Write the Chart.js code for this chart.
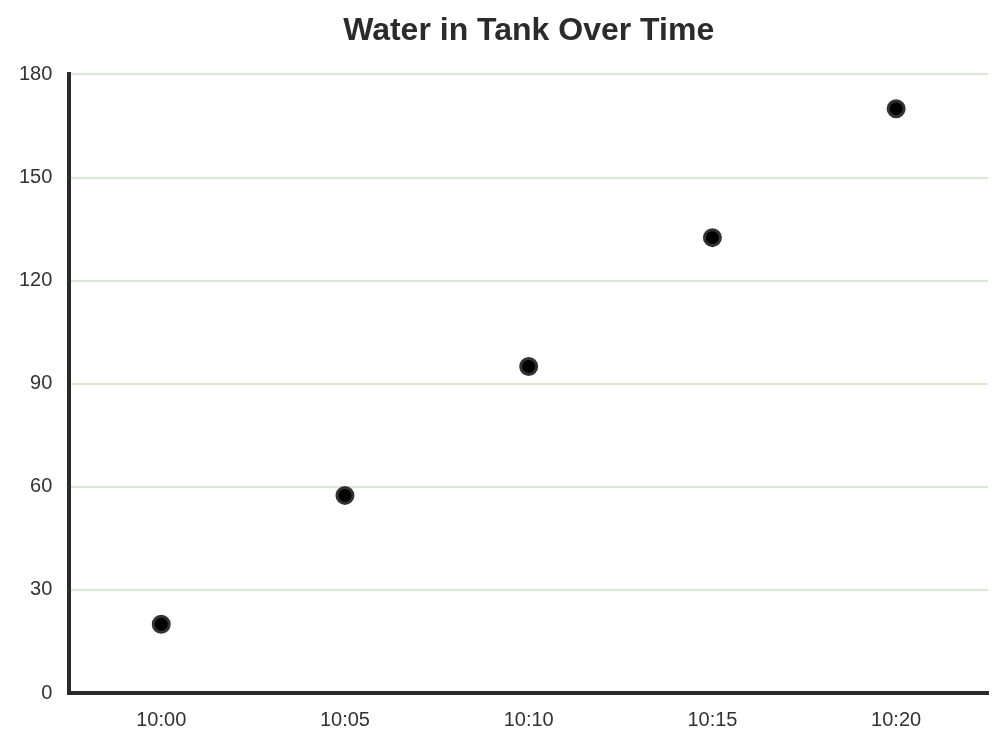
<!DOCTYPE html>
<html>
<head>
<meta charset="utf-8">
<script src="https://cdn.jsdelivr.net/npm/chart.js@4"></script>
<style>
html,body{margin:0;padding:0;background:#fff;}
canvas{display:block;}
</style>
</head>
<body>
<canvas id="c" width="1007" height="747"></canvas>
<script>
const categories = ["10:00", "10:05", "10:10", "10:15", "10:20"];
const waterValues = [20, 57.5, 95, 132.5, 170];
const yTicks = [0, 30, 60, 90, 120, 150, 180];

new Chart(document.getElementById('c'), {
  type: 'line',
  data: {
    labels: categories,
    datasets: [{
      label: 'Water',
      data: waterValues,
      showLine: false,
      pointRadius: 8,
      pointHoverRadius: 8,
      pointBackgroundColor: '#000000',
      pointBorderColor: '#333333',
      pointBorderWidth: 3
    }]
  },
  options: {
    responsive: false,
    devicePixelRatio: 1,
    animation: false,
    layout: { padding: { left: 2, right: 19, top: 8, bottom: 0 } },
    plugins: {
      legend: { display: false },
      tooltip: { enabled: false },
      title: {
        display: true,
        text: 'Water in Tank Over Time',
        fullSize: false,
        color: '#2b2b2b',
        font: { family: 'Liberation Sans, Arial, sans-serif', size: 32, weight: 'bold' },
        padding: { top: 4, bottom: 24 }
      }
    },
    scales: {
      x: {
        type: 'category',
        offset: true,
        grid: { display: false, drawTicks: false },
        border: { display: true, color: '#2b2b2b', width: 4 },
        ticks: {
          color: '#333333',
          padding: 15,
          font: { family: 'Liberation Sans, Arial, sans-serif', size: 20 }
        }
      },
      y: {
        min: 0,
        max: 180,
        afterBuildTicks: (axis) => { axis.ticks = yTicks.map(v => ({ value: v })); },
        grid: { color: '#d9ead3', lineWidth: 2, drawTicks: false },
        border: { display: true, color: '#2b2b2b', width: 4 },
        ticks: {
          color: '#333333',
          padding: 17,
          font: { family: 'Liberation Sans, Arial, sans-serif', size: 20 }
        }
      }
    }
  }
});
</script>
</body>
</html>
